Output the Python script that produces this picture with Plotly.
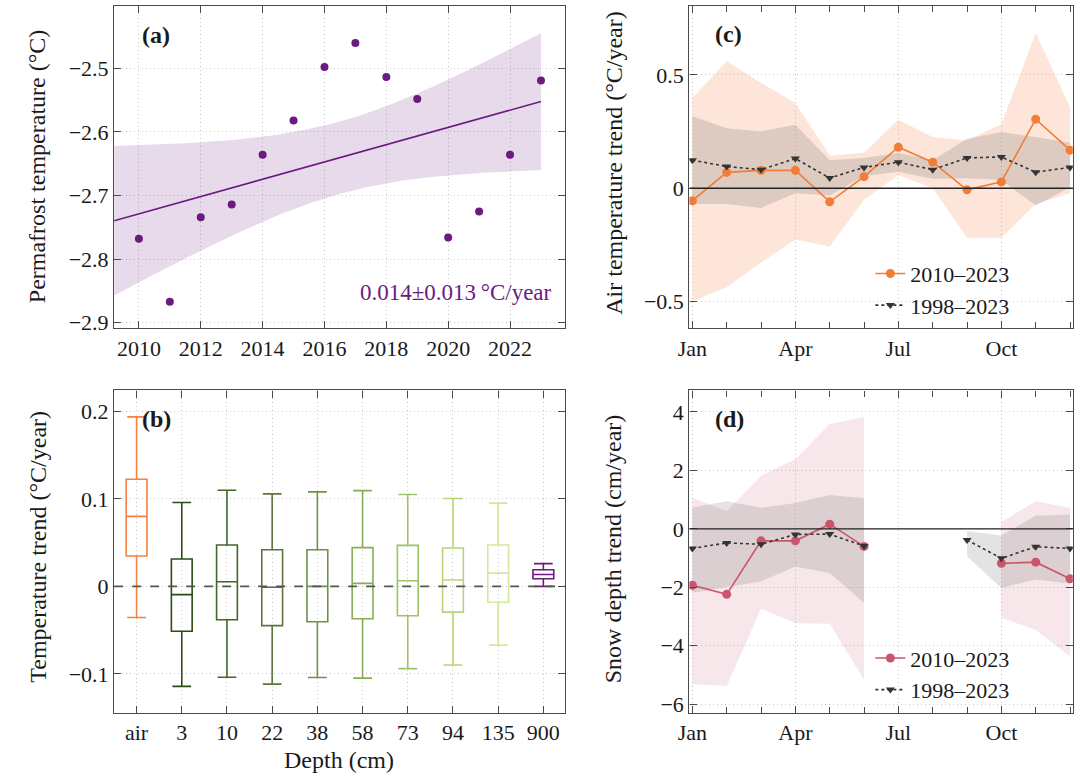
import numpy as np
import plotly.graph_objects as go

# ---------------- data ----------------
# (a) permafrost temperature at 900 cm
years = [2010, 2011, 2012, 2013, 2014, 2015, 2016, 2017, 2018, 2019, 2020, 2021, 2022, 2023]
permafrost_temp = [-2.768, -2.867, -2.734, -2.714, -2.636, -2.582, -2.498, -2.460,
                   -2.5135, -2.548, -2.766, -2.725, -2.636, -2.519]
trend_text = "0.014±0.013\u2009°C/year"
ci_multiplier = 1.85

# (b) temperature trend by depth
depth_labels = ["air", "3", "10", "22", "38", "58", "73", "94", "135", "900"]
box_lower = [-0.0355, -0.1143, -0.1038, -0.1117, -0.1042, -0.1049, -0.0940, -0.0898, -0.0672, 0.0]
box_q1 = [0.0347, -0.0513, -0.0381, -0.0449, -0.0404, -0.0370, -0.0336, -0.0294, -0.0181, 0.0087]
box_median = [0.080, -0.0094, 0.0053, -0.0011, 0.0, 0.0034, 0.0064, 0.0072, 0.0151, 0.0136]
box_q3 = [0.1223, 0.0313, 0.0472, 0.0419, 0.0419, 0.0442, 0.0468, 0.0438, 0.0472, 0.0189]
box_upper = [0.1936, 0.0958, 0.1098, 0.1057, 0.1079, 0.1094, 0.1049, 0.1004, 0.0951, 0.026]
box_colors = ["#f58142", "#2c4c14", "#45662a", "#5d7340", "#6e9245", "#86ad55",
              "#9ec265", "#b8d478", "#d2e89a", "#6b1b7f"]

# (c) air temperature trend per month
months = list(range(1, 13))
month_tick_vals = [1, 4, 7, 10]
month_tick_text = ["Jan", "Apr", "Jul", "Oct"]
series_names = ["2010–2023", "1998–2023"]
air_trend_2010 = [-0.055, 0.070, 0.079, 0.079, -0.060, 0.051, 0.181, 0.115, -0.007, 0.028, 0.305, 0.168]
air_hi_2010 = [0.398, 0.561, 0.466, 0.376, 0.144, 0.157, 0.302, 0.226, 0.211, 0.284, 0.685, 0.357]
air_lo_2010 = [-0.499, -0.437, -0.328, -0.226, -0.257, -0.051, 0.058, 0.0, -0.219, -0.219, -0.070, -0.022]
air_trend_1998 = [0.124, 0.096, 0.082, 0.131, 0.045, 0.092, 0.115, 0.082, 0.134, 0.138, 0.071, 0.092]
air_hi_1998 = [0.318, 0.265, 0.251, 0.280, 0.124, 0.134, 0.156, 0.124, 0.219, 0.248, 0.226, 0.201]
air_lo_1998 = [-0.069, -0.070, -0.087, -0.022, -0.032, 0.054, 0.073, 0.042, 0.044, 0.036, -0.076, 0.003]

# (d) snow depth trend per month
snow_trend_2010 = [-1.93, -2.24, -0.41, -0.41, 0.16, -0.60, None, None, None, -1.18, -1.14, -1.71]
snow_hi_2010 = [1.06, 0.60, 1.82, 2.38, 3.59, 3.82, None, None, None, 0.24, 0.94, 0.71]
snow_lo_2010 = [-5.32, -5.38, -2.73, -3.23, -3.25, -5.16, None, None, None, -3.04, -3.46, -4.37]
snow_trend_1998 = [-0.67, -0.48, -0.53, -0.19, -0.18, -0.59, None, None, -0.38, -1.01, -0.61, -0.67]
snow_hi_1998 = [0.72, 0.94, 0.72, 0.88, 1.16, 1.05, None, None, -0.07, -0.23, 0.45, 0.49]
snow_lo_1998 = [-2.19, -1.99, -1.80, -1.29, -1.51, -2.53, None, None, -0.95, -2.02, -1.73, -1.88]

# ---------------- style ----------------
W, H = 1080, 778
FONT = "Liberation Serif, Times New Roman, serif"
FS_TICK = 22
FS_TITLE = 24
FS_LEG = 22
TXT = "#1a1a1a"
FRAME = "#4a4a4a"
PURPLE = "#6b1b7f"
ORANGE = "#f27c38"
RED = "#c9566a"
DARK = "#333333"


def px(x):
    return x / W


def py(y):
    return 1 - y / H


def band_polygon(x, lo, hi):
    xs, ys, run = [], [], []
    for xi, l, h in list(zip(x, lo, hi)) + [(None, None, None)]:
        if l is None or h is None:
            if run:
                xs += [r[0] for r in run] + [r[0] for r in reversed(run)] + [run[0][0], None]
                ys += [r[2] for r in run] + [r[1] for r in reversed(run)] + [run[0][2], None]
                run = []
        else:
            run.append((xi, l, h))
    return xs, ys


fig = go.Figure()

# ---- (a) ----
yr = np.array(years, float)
tp = np.array(permafrost_temp, float)
b, a = np.polyfit(yr, tp, 1)
res = tp - (a + b * yr)
s = np.sqrt(np.sum(res ** 2) / (len(yr) - 2))
sxx = np.sum((yr - yr.mean()) ** 2)
xa_range = [2009.2, 2023.77]
fx = np.linspace(xa_range[0], yr.max(), 120)
fy = a + b * fx
hw = ci_multiplier * s * np.sqrt(1 / len(yr) + (fx - yr.mean()) ** 2 / sxx)
fig.add_trace(go.Scatter(x=np.concatenate([fx, fx[::-1]]), y=np.concatenate([fy + hw, (fy - hw)[::-1]]),
                         fill="toself", fillcolor="rgba(107,27,127,0.16)", line=dict(width=0),
                         mode="lines", showlegend=False, hoverinfo="skip", xaxis="x", yaxis="y"))
fig.add_trace(go.Scatter(x=fx, y=fy, mode="lines", line=dict(color=PURPLE, width=1.6),
                         showlegend=False, xaxis="x", yaxis="y"))
fig.add_trace(go.Scatter(x=years, y=permafrost_temp, mode="markers",
                         marker=dict(color=PURPLE, size=8), showlegend=False, xaxis="x", yaxis="y"))

# ---- (b) ----
for i, lab in enumerate(depth_labels):
    fig.add_trace(go.Box(x=[lab], q1=[box_q1[i]], median=[box_median[i]], q3=[box_q3[i]],
                         lowerfence=[box_lower[i]], upperfence=[box_upper[i]],
                         boxpoints=False, width=0.46, whiskerwidth=0.9,
                         line=dict(color=box_colors[i], width=1.6), fillcolor="rgba(255,255,255,0)",
                         showlegend=False, xaxis="x3", yaxis="y3"))

# ---- (c) ----
bx, by = band_polygon(months, air_lo_2010, air_hi_2010)
fig.add_trace(go.Scatter(x=bx, y=by, fill="toself", fillcolor="rgba(245,129,66,0.2)", line=dict(width=0),
                         mode="lines", showlegend=False, hoverinfo="skip", xaxis="x2", yaxis="y2"))
bx, by = band_polygon(months, air_lo_1998, air_hi_1998)
fig.add_trace(go.Scatter(x=bx, y=by, fill="toself", fillcolor="rgba(80,80,80,0.18)", line=dict(width=0),
                         mode="lines", showlegend=False, hoverinfo="skip", xaxis="x2", yaxis="y2"))
fig.add_trace(go.Scatter(x=months, y=air_trend_2010, mode="lines+markers", name=series_names[0],
                         line=dict(color=ORANGE, width=1.6), marker=dict(color=ORANGE, size=9),
                         legend="legend", xaxis="x2", yaxis="y2"))
fig.add_trace(go.Scatter(x=months, y=air_trend_1998, mode="lines+markers", name=series_names[1],
                         line=dict(color=DARK, width=1.6, dash="dot"),
                         marker=dict(color=DARK, size=8, symbol="triangle-down"),
                         legend="legend", xaxis="x2", yaxis="y2"))

# ---- (d) ----
bx, by = band_polygon(months, snow_lo_2010, snow_hi_2010)
fig.add_trace(go.Scatter(x=bx, y=by, fill="toself", fillcolor="rgba(201,86,106,0.14)", line=dict(width=0),
                         mode="lines", showlegend=False, hoverinfo="skip", xaxis="x4", yaxis="y4"))
bx, by = band_polygon(months, snow_lo_1998, snow_hi_1998)
fig.add_trace(go.Scatter(x=bx, y=by, fill="toself", fillcolor="rgba(80,80,80,0.16)", line=dict(width=0),
                         mode="lines", showlegend=False, hoverinfo="skip", xaxis="x4", yaxis="y4"))
fig.add_trace(go.Scatter(x=months, y=snow_trend_2010, mode="lines+markers", name=series_names[0],
                         line=dict(color=RED, width=1.6), marker=dict(color=RED, size=9),
                         legend="legend2", xaxis="x4", yaxis="y4"))
fig.add_trace(go.Scatter(x=months, y=snow_trend_1998, mode="lines+markers", name=series_names[1],
                         line=dict(color=DARK, width=1.6, dash="dot"),
                         marker=dict(color=DARK, size=8, symbol="triangle-down"),
                         legend="legend2", xaxis="x4", yaxis="y4"))

# ---------------- layout ----------------
xl = [px(103.3), px(559)]
xr = [px(685), px(1072.7)]
yt = [py(331), py(5.7)]
yb = [py(719.3), py(394)]


def ax(domain, anchor, **kw):
    d = dict(domain=domain, anchor=anchor, showline=True, mirror="allticks", linecolor=FRAME, linewidth=1.3,
             ticks="inside", ticklen=7, tickwidth=1.2, tickcolor=FRAME, showgrid=True, gridcolor="#c8c8c8",
             griddash="1px,3px", gridwidth=1, zeroline=False,
             tickfont=dict(family=FONT, size=FS_TICK, color=TXT))
    d.update(kw)
    return d


minor = dict(tickvals=months, ticks="inside", ticklen=6, tickcolor=FRAME, tickwidth=1.2, showgrid=False)

fig.update_layout(
    width=W, height=H, margin=dict(l=0, r=0, t=0, b=0),
    paper_bgcolor="white", plot_bgcolor="white",
    font=dict(family=FONT, size=FS_TICK, color=TXT),
    boxmode="overlay",
    xaxis=ax(xl, "y", range=xa_range, tickvals=[2010, 2012, 2014, 2016, 2018, 2020, 2022]),
    yaxis=ax(yt, "x", range=[-2.9083, -2.4014], tickvals=[-2.9, -2.8, -2.7, -2.6, -2.5], tickformat=".1f"),
    xaxis3=ax(xl, "y3", type="category", categoryorder="array", categoryarray=depth_labels,
              range=[-0.496, 9.474]),
    yaxis3=ax(yb, "x3", range=[-0.1445, 0.2238], tickvals=[-0.1, 0, 0.1, 0.2]),
    xaxis2=ax(xr, "y2", range=[0.913, 12.08], tickvals=month_tick_vals, ticktext=month_tick_text, minor=minor),
    yaxis2=ax(yt, "x2", range=[-0.617, 0.806], tickvals=[-0.5, 0, 0.5]),
    xaxis4=ax(xr, "y4", range=[0.913, 12.08], tickvals=month_tick_vals, ticktext=month_tick_text, minor=minor),
    yaxis4=ax(yb, "x4", range=[-6.294, 4.734], tickvals=[-6, -4, -2, 0, 2, 4]),
    legend=dict(x=px(868), y=py(255), xanchor="left", yanchor="top", bgcolor="rgba(0,0,0,0)",
                font=dict(family=FONT, size=FS_LEG, color=TXT), tracegroupgap=0),
    legend2=dict(x=px(868), y=py(643), xanchor="left", yanchor="top", bgcolor="rgba(0,0,0,0)",
                 font=dict(family=FONT, size=FS_LEG, color=TXT), tracegroupgap=0),
)

# zero lines
fig.add_shape(type="line", xref="x3 domain", yref="y3", x0=0, x1=1, y0=0, y1=0,
              line=dict(color="#555555", width=1.6, dash="dash"))
fig.add_shape(type="line", xref="x2 domain", yref="y2", x0=0, x1=1, y0=0, y1=0,
              line=dict(color="#222222", width=1.3))
fig.add_shape(type="line", xref="x4 domain", yref="y4", x0=0, x1=1, y0=0, y1=0,
              line=dict(color="#222222", width=1.3))

ann = []
for lab, x, y in [("<b>(a)</b>", 129, 35), ("<b>(b)</b>", 129, 423), ("<b>(c)</b>", 709, 34), ("<b>(d)</b>", 709, 423)]:
    ann.append(dict(text=lab, x=px(x), y=py(y), xref="paper", yref="paper", xanchor="left", yanchor="middle",
                    showarrow=False, font=dict(family=FONT, size=24, color=TXT)))
ann.append(dict(text=trend_text, x=px(548), y=py(295), xref="paper", yref="paper", xanchor="right",
                yanchor="middle", showarrow=False, font=dict(family=FONT, size=23, color=PURPLE)))
for lab, x, y in [("Permafrost temperature (°C)", 26, 168), ("Temperature trend (°C/year)", 26, 552),
                  ("Air temperature trend (°C/year)", 608, 165), ("Snow depth trend (cm/year)", 608, 554)]:
    ann.append(dict(text=lab, x=px(x), y=py(y), xref="paper", yref="paper", xanchor="center", yanchor="middle",
                    textangle=-90, showarrow=False, font=dict(family=FONT, size=FS_TITLE, color=TXT)))
ann.append(dict(text="Depth (cm)", x=px(331), y=py(767), xref="paper", yref="paper", xanchor="center",
                yanchor="middle", showarrow=False, font=dict(family=FONT, size=FS_TITLE, color=TXT)))
fig.update_layout(annotations=ann)

fig.write_html("out.html")
